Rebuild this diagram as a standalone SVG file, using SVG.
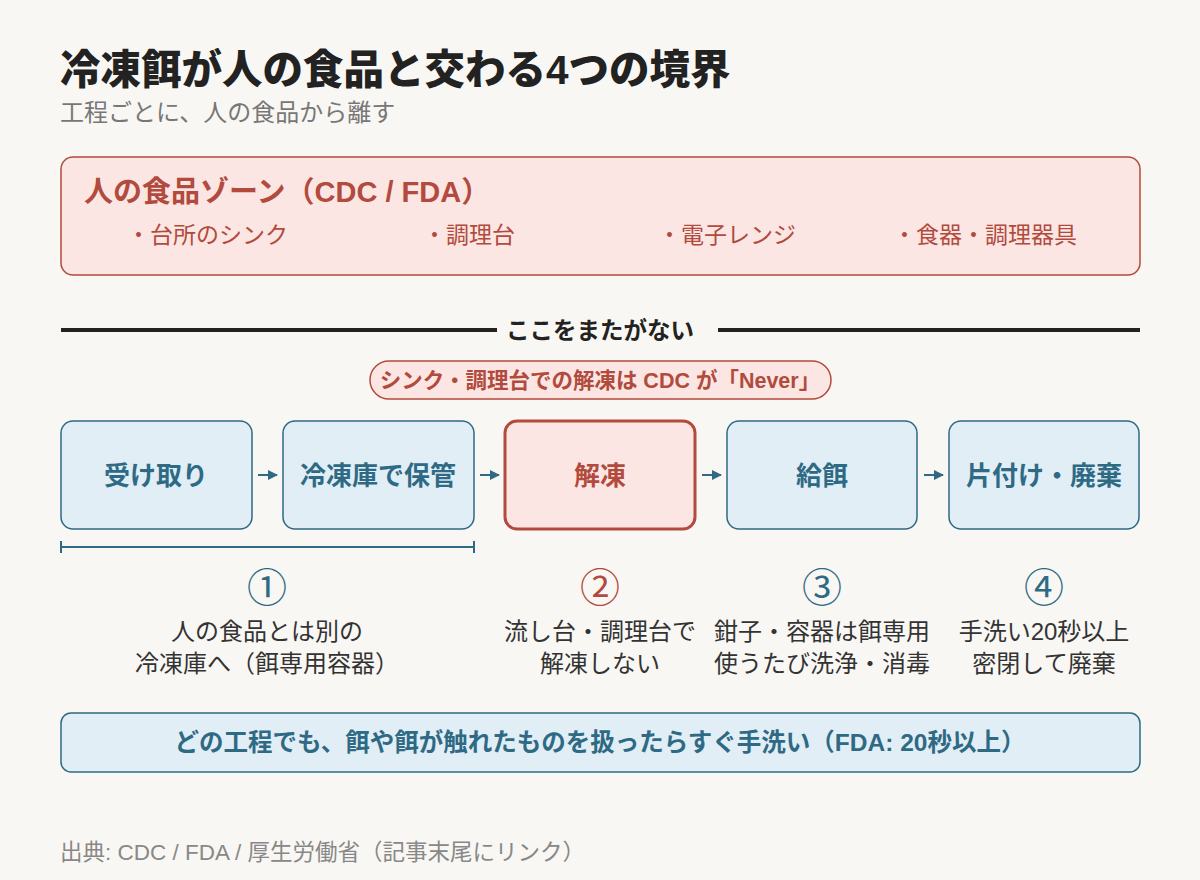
<svg xmlns="http://www.w3.org/2000/svg" width="1200" height="880" viewBox="0 0 1200 880">
<defs>
<marker id="arr" viewBox="0 0 10 10" refX="9" refY="5" markerWidth="5" markerHeight="5" orient="auto"><path d="M0,0 L10,5 L0,10 z" fill="#2f6a85"/></marker>
<style>
text{font-family:"Liberation Sans","Noto Sans CJK JP",sans-serif;}
.title{font-size:40.5px;font-weight:900;fill:#222;}
.sub{font-size:24px;fill:#777;}
.zone{fill:#fbe6e3;stroke:#b24a3d;stroke-width:1.5;}
.zt{font-size:29px;font-weight:700;fill:#b24a3d;}
.zi{font-size:23px;fill:#b24a3d;}
.step{fill:#e1eef5;stroke:#2f6a85;stroke-width:1.5;}
.stepr{fill:#fbe6e3;stroke:#b24a3d;stroke-width:3;}
.sl{font-size:26px;font-weight:700;fill:#2f6a85;text-anchor:middle;}
.slr{font-size:26px;font-weight:700;fill:#b24a3d;text-anchor:middle;}
.num{font-size:40px;fill:#2f6a85;text-anchor:middle;font-family:"Noto Sans CJK JP",sans-serif;}
.numr{font-size:40px;fill:#b24a3d;text-anchor:middle;font-family:"Noto Sans CJK JP",sans-serif;}
.desc{font-size:24px;fill:#333;text-anchor:middle;}
.conn{stroke:#2f6a85;stroke-width:2;fill:none;}
</style>
</defs>
<rect width="1200" height="880" fill="#f9f7f3"/>
<text class="title" x="60" y="84">冷凍餌が人の食品と交わる4つの境界</text>
<text class="sub" x="60" y="121">工程ごとに、人の食品から離す</text>
<g id="zone">
<rect class="zone" x="61" y="157" width="1079" height="118" rx="12"/>
<text class="zt" x="84" y="202">人の食品ゾーン（CDC / FDA）</text>
<text class="zi" x="127" y="243">・台所のシンク</text>
<text class="zi" x="423" y="243">・調理台</text>
<text class="zi" x="658" y="243">・電子レンジ</text>
<text class="zi" x="893" y="243">・食器・調理器具</text>
</g>
<g id="boundary">
<line x1="61" y1="330" x2="497" y2="330" stroke="#222" stroke-width="4"/>
<line x1="718" y1="330" x2="1140" y2="330" stroke="#222" stroke-width="4"/>
<text x="600" y="339" font-size="23.5" font-weight="700" fill="#222" text-anchor="middle">ここをまたがない</text>
</g>
<g id="warning">
<rect x="370" y="361" width="461" height="38" rx="19" fill="#fbe6e3" stroke="#b24a3d" stroke-width="1.5"/>
<text x="600" y="388" font-size="21.5" font-weight="700" fill="#b24a3d" text-anchor="middle">シンク・調理台での解凍は CDC が「Never」</text>
</g>
<g id="s1"><rect class="step" x="61" y="421" width="191" height="108" rx="12"/><text class="sl" x="156" y="485">受け取り</text></g>
<g id="s2"><rect class="step" x="283" y="421" width="191" height="108" rx="12"/><text class="sl" x="378" y="485">冷凍庫で保管</text></g>
<g id="s3"><rect class="stepr" x="505" y="421" width="190" height="108" rx="12"/><text class="slr" x="600" y="485">解凍</text></g>
<g id="s4"><rect class="step" x="727" y="421" width="190" height="108" rx="12"/><text class="sl" x="822" y="485">給餌</text></g>
<g id="s5"><rect class="step" x="949" y="421" width="190" height="108" rx="12"/><text class="sl" x="1044" y="485">片付け・廃棄</text></g>
<g id="connectors">
<line class="conn" x1="258" y1="475" x2="277" y2="475" marker-end="url(#arr)"/>
<line class="conn" x1="480" y1="475" x2="499" y2="475" marker-end="url(#arr)"/>
<line class="conn" x1="702" y1="475" x2="721" y2="475" marker-end="url(#arr)"/>
<line class="conn" x1="924" y1="475" x2="943" y2="475" marker-end="url(#arr)"/>
<path class="conn" d="M61,541 V553 M61,547 H474 M474,541 V553"/>
</g>
<g id="n1"><text class="num" x="267" y="602">①</text><text class="desc" x="267" y="640">人の食品とは別の</text><text class="desc" x="267" y="672">冷凍庫へ（餌専用容器）</text></g>
<g id="n2"><text class="numr" x="600" y="602">②</text><text class="desc" x="600" y="640">流し台・調理台で</text><text class="desc" x="600" y="672">解凍しない</text></g>
<g id="n3"><text class="num" x="822" y="602">③</text><text class="desc" x="822" y="640">鉗子・容器は餌専用</text><text class="desc" x="822" y="672">使うたび洗浄・消毒</text></g>
<g id="n4"><text class="num" x="1044" y="602">④</text><text class="desc" x="1044" y="640">手洗い20秒以上</text><text class="desc" x="1044" y="672">密閉して廃棄</text></g>
<g id="handwash">
<rect x="61" y="713" width="1079" height="59" rx="10" fill="#e1eef5" stroke="#2f6a85" stroke-width="1.5"/>
<text x="600" y="751" font-size="24.5" font-weight="700" fill="#2f6a85" text-anchor="middle">どの工程でも、餌や餌が触れたものを扱ったらすぐ手洗い（FDA: 20秒以上）</text>
</g>
<text x="60" y="860" font-size="22.5" fill="#888">出典: CDC / FDA / 厚生労働省（記事末尾にリンク）</text>
</svg>
